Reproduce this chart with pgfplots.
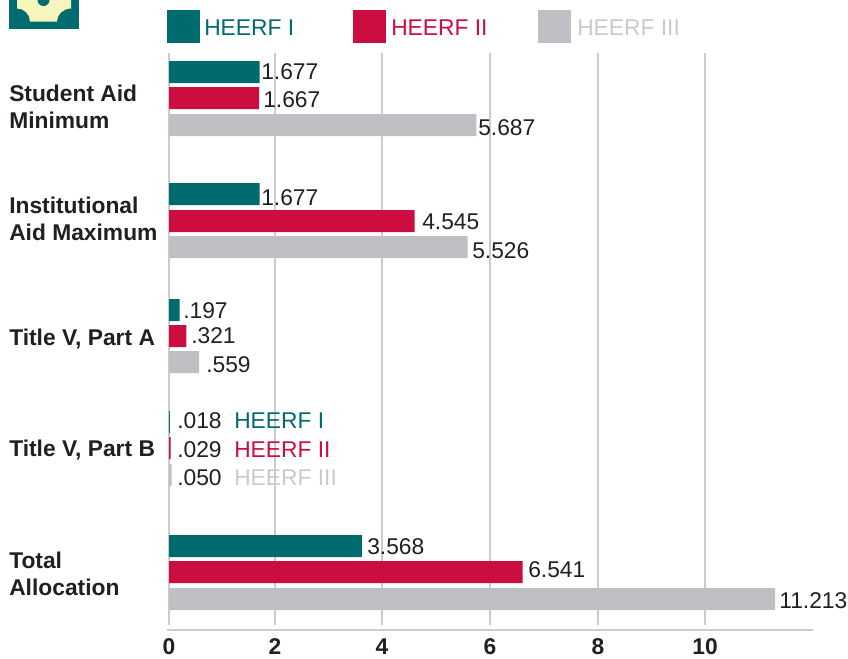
\documentclass[border=0pt]{standalone}
\usepackage{pgfplots}
\usepackage{fontspec}
\setmainfont{Liberation Sans}
\pgfplotsset{compat=1.18}
\definecolor{hone}{HTML}{006B6F}
\definecolor{htwo}{HTML}{CC0D3F}
\definecolor{hthree}{HTML}{BFC0C4}
\definecolor{hthreetxt}{HTML}{C9CACD}
\definecolor{gridc}{HTML}{CBCCCE}
\definecolor{ink}{HTML}{231F20}
\definecolor{cream}{HTML}{F6F5BC}
\newcommand{\fs}{\fontsize{17.1}{20}\selectfont}
\begin{document}
\begin{tikzpicture}
\begin{axis}[
  at={(126.75pt,-468.75pt)},anchor=south west,
  scale only axis,width=483pt,height=429pt,
  xmin=0,xmax=11.915,ymin=53,ymax=625,
  y dir=reverse,
  axis x line=bottom,axis y line=left,
  axis line style={draw=none},
  tick style={draw=none},
  major tick length=0pt,
  xtick={0,1.961,3.941,5.939,7.937,9.917},
  xticklabels={0,2,4,6,8,10},
  xmajorgrids,
  grid style={gridc,line width=1.1pt},
  ytick={106.8,218.8,338.8,449.8,573.6},
  yticklabels={{Student Aid\\Minimum},{Institutional\\Aid Maximum},{Title V, Part A},{Title V, Part B},{Total\\Allocation}},
  yticklabel style={anchor=west,align=left,inner sep=0pt,xshift=-120pt,font=\bfseries\fs,text=ink},
  xticklabel style={font=\bfseries\fs,text=ink,inner sep=0pt,yshift=-10pt},
  /pgf/number format/assume math mode=true,
  xbar,bar shift=0pt,bar width=16.5pt,
  clip=false,
]
\addplot[fill=hone,draw=none] coordinates {(1.677,72) (1.677,194) (0.197,310) (0.018,422) (3.568,546)};
\addplot[fill=htwo,draw=none] coordinates {(1.667,98) (4.545,221) (0.321,336) (0.029,448) (6.541,572)};
\addplot[fill=hthree,draw=none] coordinates {(5.687,125) (5.526,247) (0.559,362) (0.050,475) (11.213,599)};
\end{axis}
\begin{scope}[x=0.75pt,y=-0.75pt,
  lab/.style={anchor=base west,inner sep=0pt,font=\fs,text=ink},
  key/.style={anchor=base west,inner sep=0pt,font=\fs}]
\path[use as bounding box] (0,0) rectangle (848,658);
\begin{scope}
\clip (0,0) rectangle (848,658);
\fill[hone] (9,0) rectangle (79,29);
\fill[cream] (17,0) -- (71,0) -- (71,8.5) arc[start angle=90,end angle=180,x radius=14,y radius=-13] -- (57,21.5) -- (30,21.5) arc[start angle=0,end angle=90,x radius=13,y radius=-13] -- cycle;
\fill[hone] (43.5,0) circle[radius=6];
\end{scope}
\draw[gridc,line width=1.1pt] (167,630) -- (813,630);
\fill[hone] (167,10) rectangle (200,43);
\node[key,text=hone] at (204,35) {HEERF I};
\fill[htwo] (353,10) rectangle (386,43);
\node[key,text=htwo] at (391,35) {HEERF II};
\fill[hthree] (538,10) rectangle (571,43);
\node[key,text=hthreetxt] at (577,35) {HEERF III};
\node[lab] at (261,79) {1.677};
\node[lab] at (263,107) {1.667};
\node[lab] at (478,135) {5.687};
\node[lab] at (261,205) {1.677};
\node[lab] at (422,229) {4.545};
\node[lab] at (472,258) {5.526};
\node[lab] at (183,318) {.197};
\node[lab] at (191,343) {.321};
\node[lab] at (206,372) {.559};
\node[lab] at (177,428) {.018};
\node[lab] at (177,457) {.029};
\node[lab] at (177,485) {.050};
\node[lab] at (367,554) {3.568};
\node[lab] at (528,577) {6.541};
\node[lab] at (779,608) {11.213};
\node[key,text=hone] at (234,428) {HEERF I};
\node[key,text=htwo] at (234,457) {HEERF II};
\node[key,text=hthreetxt] at (234,485) {HEERF III};
\end{scope}
\end{tikzpicture}
\end{document}
